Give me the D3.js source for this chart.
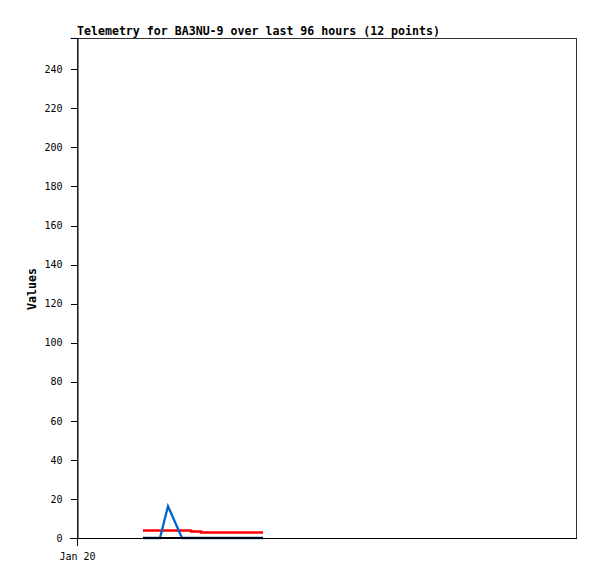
<!DOCTYPE html>
<html>
<head>
<meta charset="utf-8">
<script src="https://cdnjs.cloudflare.com/ajax/libs/d3/7.8.5/d3.min.js"></script>
<style>
  html, body { margin: 0; padding: 0; background: #fff; }
  svg { display: block; }
  text { font-family: "DejaVu Sans Mono", "Liberation Mono", monospace; }
</style>
</head>
<body>
<script>
const titleText = "Telemetry for BA3NU-9 over last 96 hours (12 points)";
const yLabel = "Values";
const times = ["2024-01-20T12:40","2024-01-20T14:24","2024-01-20T15:56","2024-01-20T17:28",
               "2024-01-20T20:10","2024-01-20T21:53","2024-01-20T23:49","2024-01-21T02:07",
               "2024-01-21T04:37","2024-01-21T06:55","2024-01-21T09:25","2024-01-21T11:43"];
const redValues   = [3.8, 3.8, 3.8, 3.8, 3.8, 3.3, 2.8, 2.8, 2.8, 2.8, 2.8, 2.8];
const blueValues  = [0, 0, 0, 16.3, 0, 0, 0, 0, 0, 0, 0, 0];
const blackValues = [0, 0, 0, 0, 0, 0, 0, 0, 0, 0, 0, 0];
const yTicks = [0, 20, 40, 60, 80, 100, 120, 140, 160, 180, 200, 220, 240];
const xDomain = ["2024-01-20T00:00", "2024-01-24T00:00"];
const xTickLabels = [{t: "2024-01-20T00:00", label: "Jan 20"}];
const yMax = 256;

const W = 597, H = 579;
const m = {left: 77, right: 20, top: 38, bottom: 41};
const parse = d3.isoParse;

const svg = d3.select("body").append("svg").attr("width", W).attr("height", H);

const x = d3.scaleTime().domain(xDomain.map(parse)).range([m.left, W - m.right]);
const y = d3.scaleLinear().domain([0, yMax]).range([H - m.bottom, m.top]);

// plot frame
svg.append("rect")
  .attr("x", m.left + 0.5).attr("y", m.top + 0.5)
  .attr("width", W - m.right - m.left - 1).attr("height", H - m.bottom - m.top)
  .attr("fill", "none").attr("stroke", "#333").attr("stroke-width", 1)
  .attr("shape-rendering", "crispEdges");

// y axis
const yAxis = d3.axisLeft(y).tickValues(yTicks).tickSize(7).tickPadding(8).tickFormat(d3.format("d"));
const gy = svg.append("g").attr("transform", `translate(${m.left + 0.5},0)`).call(yAxis);
gy.select(".domain").attr("stroke", "#000");
gy.selectAll(".tick line").attr("stroke", "#000").attr("shape-rendering", "crispEdges");
gy.selectAll("text").attr("font-size", 10).attr("fill", "#000");
gy.attr("font-family", null);

// x axis
const xAxis = d3.axisBottom(x)
  .tickValues(xTickLabels.map(d => parse(d.t)))
  .tickFormat((d, i) => xTickLabels[i].label)
  .tickSize(7).tickPadding(7).tickSizeOuter(0);
const gx = svg.append("g").attr("transform", `translate(0,${H - m.bottom + 0.5})`).call(xAxis);
gx.select(".domain").attr("stroke", "#000").attr("d", `M${m.left - 7},0H${W - m.right}`);
gx.selectAll(".tick line").attr("stroke", "#000").attr("shape-rendering", "crispEdges");
gx.selectAll("text").attr("font-size", 10).attr("fill", "#000");
gx.attr("font-family", null);

// series
const pts = vals => vals.map((v, i) => [x(parse(times[i])), y(v)]);
svg.append("path").attr("d", d3.line().curve(d3.curveStepAfter)(pts(redValues)))
  .attr("fill", "none").attr("stroke", "#ff0000").attr("stroke-width", 2.5);
svg.append("path").attr("d", d3.line()(pts(blueValues)))
  .attr("fill", "none").attr("stroke", "#0066cc").attr("stroke-width", 2.3);
svg.append("path").attr("d", d3.line()(pts(blackValues)))
  .attr("fill", "none").attr("stroke", "#000").attr("stroke-width", 2);

// title
svg.append("text").attr("x", m.left).attr("y", 35)
  .attr("font-size", 11.6).attr("font-weight", "bold").text(titleText);

// y label
svg.append("text").attr("transform", `translate(36,289) rotate(-90)`)
  .attr("text-anchor", "middle").attr("font-size", 11.6).attr("font-weight", "bold").text(yLabel);
</script>
</body>
</html>
